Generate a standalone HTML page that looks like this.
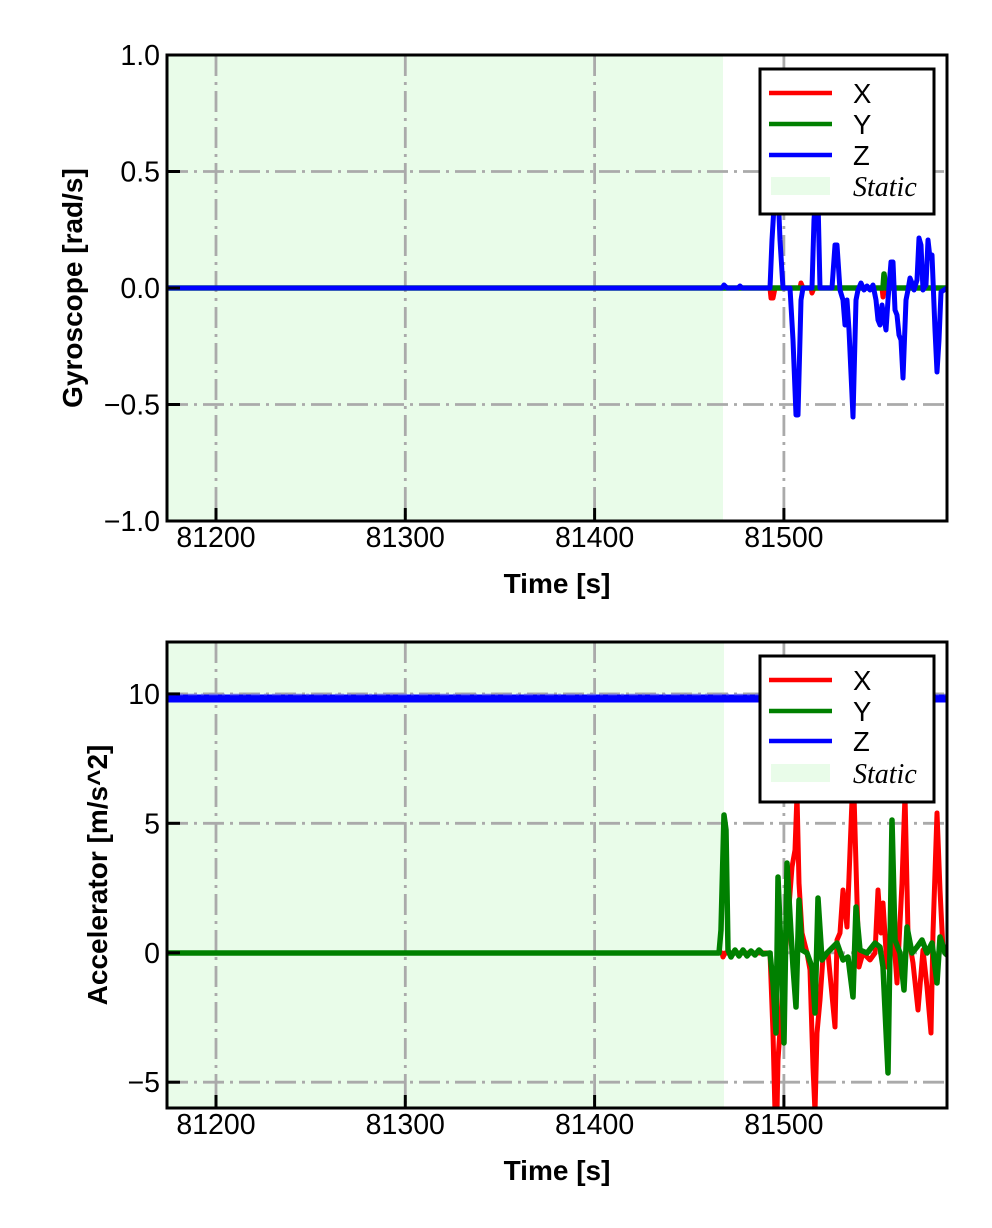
<!DOCTYPE html>
<html><head><meta charset="utf-8"><style>
html,body{margin:0;padding:0;background:#fff;}
svg{display:block;}
text{font-family:"Liberation Sans",Arial,sans-serif;fill:#000;}
.tk{font-size:28.5px;}
.lg{font-size:27.5px;}
.lab{font-size:28px;font-weight:bold;}
.st{font-family:"Liberation Serif","Times New Roman",serif;font-style:italic;font-size:28px;}
.grid{stroke:#aaaaaa;stroke-width:2.8;stroke-dasharray:21 6 3 6;fill:none;}
.ln{fill:none;stroke-linejoin:round;stroke-linecap:round;}
</style></head><body>
<svg width="992" height="1228" viewBox="0 0 992 1228" xmlns="http://www.w3.org/2000/svg">
<rect width="992" height="1228" fill="#fff"/>

<defs>
<clipPath id="c1"><rect x="167" y="55" width="780" height="466"/></clipPath>
<clipPath id="c2"><rect x="167" y="642" width="780" height="466"/></clipPath>
</defs>

<!-- ============ TOP PLOT ============ -->
<rect x="167" y="55" width="556" height="466" fill="#e9fce9"/>
<g class="grid">
<line x1="216" y1="55" x2="216" y2="521"/>
<line x1="405.3" y1="55" x2="405.3" y2="521"/>
<line x1="594.6" y1="55" x2="594.6" y2="521"/>
<line x1="783.9" y1="55" x2="783.9" y2="521"/>
<line x1="167" y1="171.5" x2="947" y2="171.5"/>
<line x1="167" y1="288" x2="947" y2="288"/>
<line x1="167" y1="404.5" x2="947" y2="404.5"/>
</g>
<g clip-path="url(#c1)">
<path class="ln" stroke="#ff0000" stroke-width="5" d="M167,288 L770,288 L771,298 L773,298 L775,288 L800,288 L801,283 L803,288 L811,288 L812,293 L814,288 L882,288 L883,297 L885,288 L947,288"/>
<path class="ln" stroke="#008000" stroke-width="5.5" d="M167,288 L883,288 L884,274 L886,288 L947,288"/>
<path class="ln" stroke="#0000ff" stroke-width="5" d="M167,288 L722,288 L724,285 L727,288 L738,288 L740,286 L742,288 L770,288 L772,240 L775,190 L778,190 L780,240 L783,288 L790,288 L793,340 L796,415 L798,415 L801,300 L803,288 L812,288 L814,220 L816,190 L818,200 L820,288 L832,288 L835,245 L837,245 L840,290 L843,300 L845,325 L847,300 L849,330 L853,417 L856,300 L858,290 L861,283 L864,290 L867,286 L870,290 L873,285 L876,300 L878,320 L880,325 L882,305 L884,318 L886,330 L888,300 L891,262 L893,262 L895,310 L897,315 L899,335 L901,340 L903,378 L906,300 L908,290 L910,278 L912,283 L914,290 L917,280 L919,238 L921,245 L923,290 L926,285 L928,240 L930,258 L932,255 L935,330 L937,372 L939,340 L941,292 L947,288"/>
</g>
<g stroke="#000" stroke-width="3">
<line x1="216" y1="521" x2="216" y2="508"/>
<line x1="405.3" y1="521" x2="405.3" y2="508"/>
<line x1="594.6" y1="521" x2="594.6" y2="508"/>
<line x1="783.9" y1="521" x2="783.9" y2="508"/>
<line x1="167" y1="55" x2="180" y2="55"/>
<line x1="167" y1="171.5" x2="180" y2="171.5"/>
<line x1="167" y1="288" x2="180" y2="288"/>
<line x1="167" y1="404.5" x2="180" y2="404.5"/>
<line x1="167" y1="521" x2="180" y2="521"/>
</g>
<rect x="760" y="69" width="174" height="145" fill="#fff" stroke="#000" stroke-width="3"/>
<line x1="769" y1="93" x2="832" y2="93" stroke="#ff0000" stroke-width="4.5"/>
<line x1="769" y1="124" x2="832" y2="124" stroke="#008000" stroke-width="4.5"/>
<line x1="769" y1="155" x2="832" y2="155" stroke="#0000ff" stroke-width="4.5"/>
<rect x="771" y="177" width="59" height="18" fill="#e9fce9"/>
<text class="lg" x="853" y="103">X</text>
<text class="lg" x="853" y="134">Y</text>
<text class="lg" x="853" y="165">Z</text>
<text class="st" x="853" y="196">Static</text>
<rect x="167" y="55" width="780" height="466" fill="none" stroke="#000" stroke-width="3"/>
<g class="tk" text-anchor="end">
<text x="160" y="65">1.0</text>
<text x="160" y="181.5">0.5</text>
<text x="160" y="298">0.0</text>
<text x="160" y="414.5">−0.5</text>
<text x="160" y="531">−1.0</text>
</g>
<g class="tk" text-anchor="middle">
<text x="216" y="547">81200</text>
<text x="405.3" y="547">81300</text>
<text x="594.6" y="547">81400</text>
<text x="783.9" y="547">81500</text>
</g>
<text class="lab" x="557" y="593" text-anchor="middle">Time [s]</text>
<text class="lab" text-anchor="middle" transform="translate(82,288) rotate(-90)">Gyroscope [rad/s]</text>

<!-- ============ BOTTOM PLOT ============ -->
<rect x="167" y="642" width="557" height="466" fill="#e9fce9"/>
<g class="grid">
<line x1="216" y1="642" x2="216" y2="1108"/>
<line x1="405.3" y1="642" x2="405.3" y2="1108"/>
<line x1="594.6" y1="642" x2="594.6" y2="1108"/>
<line x1="783.9" y1="642" x2="783.9" y2="1108"/>
<line x1="167" y1="693.9" x2="947" y2="693.9"/>
<line x1="167" y1="823.3" x2="947" y2="823.3"/>
<line x1="167" y1="952.8" x2="947" y2="952.8"/>
<line x1="167" y1="1082.2" x2="947" y2="1082.2"/>
</g>
<g clip-path="url(#c2)">
<path class="ln" stroke="#ff0000" stroke-width="5" d="M167,953 L722,953 L723,957 L725,953 L770,953 L773,1033 L775,1112 L777,1112 L778,1060 L782,1000 L787,933 L792,867 L795,850 L797,795 L799,883 L802,933 L807,953 L810,970 L813,1067 L815,1112 L817,1033 L820,1000 L823,957 L828,953 L835,1027 L837,940 L840,933 L843,890 L847,927 L849,877 L852,800 L854,795 L857,900 L859,967 L863,953 L870,960 L875,953 L878,890 L881,933 L883,903 L887,967 L893,927 L897,983 L902,883 L905,795 L908,933 L913,963 L918,1010 L923,950 L927,987 L931,1033 L933,933 L937,813 L940,890 L943,950 L947,953"/>
<path class="ln" stroke="#008000" stroke-width="5.5" d="M167,953 L719,953 L721,930 L724,815 L726,830 L728,950 L731,957 L735,950 L739,956 L743,950 L747,956 L751,951 L755,955 L759,950 L763,954 L770,953 L773,983 L776,1033 L778,877 L781,950 L784,1043 L787,863 L791,933 L793,967 L796,1007 L799,900 L802,950 L807,953 L812,967 L815,1013 L818,898 L822,960 L827,953 L837,943 L843,960 L848,957 L853,997 L856,907 L860,950 L867,953 L875,943 L880,947 L883,967 L888,1073 L892,820 L895,940 L900,953 L904,990 L907,927 L912,953 L917,947 L922,940 L927,953 L932,943 L937,983 L940,937 L945,953 L947,955"/>
<line x1="167" y1="698.5" x2="947" y2="698.5" stroke="#0000ff" stroke-width="8"/>
<line x1="167" y1="694.5" x2="947" y2="694.5" stroke="#6a6ae8" stroke-width="1.5" stroke-dasharray="9 4 3 5"/>
</g>
<g stroke="#000" stroke-width="3">
<line x1="216" y1="1108" x2="216" y2="1095"/>
<line x1="405.3" y1="1108" x2="405.3" y2="1095"/>
<line x1="594.6" y1="1108" x2="594.6" y2="1095"/>
<line x1="783.9" y1="1108" x2="783.9" y2="1095"/>
<line x1="167" y1="693.9" x2="180" y2="693.9"/>
<line x1="167" y1="823.3" x2="180" y2="823.3"/>
<line x1="167" y1="952.8" x2="180" y2="952.8"/>
<line x1="167" y1="1082.2" x2="180" y2="1082.2"/>
</g>
<rect x="760" y="656" width="174" height="146" fill="#fff" stroke="#000" stroke-width="3"/>
<line x1="769" y1="680" x2="832" y2="680" stroke="#ff0000" stroke-width="4.5"/>
<line x1="769" y1="711" x2="832" y2="711" stroke="#008000" stroke-width="4.5"/>
<line x1="769" y1="741" x2="832" y2="741" stroke="#0000ff" stroke-width="4.5"/>
<rect x="771" y="764" width="59" height="18" fill="#e9fce9"/>
<text class="lg" x="853" y="690">X</text>
<text class="lg" x="853" y="721">Y</text>
<text class="lg" x="853" y="751">Z</text>
<text class="st" x="853" y="783">Static</text>
<rect x="167" y="642" width="780" height="466" fill="none" stroke="#000" stroke-width="3"/>
<g class="tk" text-anchor="end">
<text x="160" y="704">10</text>
<text x="160" y="833.3">5</text>
<text x="160" y="962.8">0</text>
<text x="160" y="1092.2">−5</text>
</g>
<g class="tk" text-anchor="middle">
<text x="216" y="1134">81200</text>
<text x="405.3" y="1134">81300</text>
<text x="594.6" y="1134">81400</text>
<text x="783.9" y="1134">81500</text>
</g>
<text class="lab" x="557" y="1180" text-anchor="middle">Time [s]</text>
<text class="lab" text-anchor="middle" transform="translate(107,875) rotate(-90)">Accelerator [m/s^2]</text>
</svg>
</body></html>
